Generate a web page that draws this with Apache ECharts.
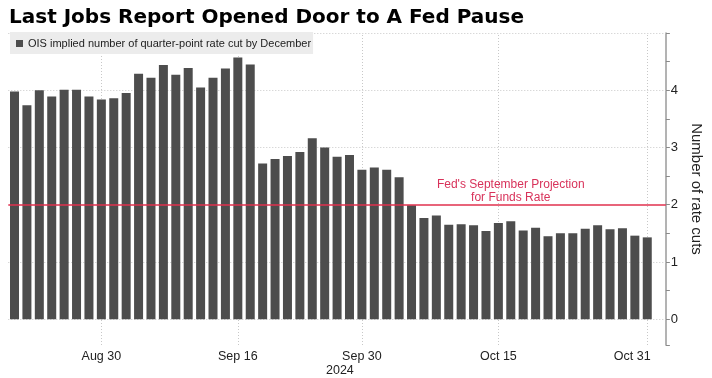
<!DOCTYPE html>
<html><head><meta charset="utf-8">
<script src="https://cdn.jsdelivr.net/npm/echarts@6/dist/echarts.min.js"></script>
<style>html,body{margin:0;padding:0;background:#fff}#c{width:712px;height:378px}</style>
</head><body><div id="c"></div>
<script>
// ---- data ----
const dates = [
  'Aug 21','Aug 22','Aug 23','Aug 26','Aug 27','Aug 28','Aug 29','Aug 30',
  'Sep 2','Sep 3','Sep 4','Sep 5','Sep 6','Sep 9','Sep 10','Sep 11','Sep 12','Sep 13','Sep 16',
  'Sep 17','Sep 18','Sep 19','Sep 20','Sep 23','Sep 24','Sep 25','Sep 26','Sep 27','Sep 30',
  'Oct 1','Oct 2','Oct 3','Oct 4','Oct 7','Oct 8','Oct 9','Oct 10','Oct 11','Oct 14','Oct 15',
  'Oct 16','Oct 17','Oct 18','Oct 21','Oct 22','Oct 23','Oct 24','Oct 25','Oct 28','Oct 29','Oct 30','Oct 31'
];
const rateCuts = [
  3.98, 3.74, 4.00, 3.89, 4.01, 4.01, 3.89, 3.84,
  3.86, 3.95, 4.29, 4.22, 4.44, 4.27, 4.39, 4.05, 4.22, 4.38, 4.57,
  4.45, 2.72, 2.80, 2.85, 2.92, 3.16, 3.00, 2.84, 2.87, 2.61,
  2.65, 2.61, 2.48, 1.99, 1.77, 1.81, 1.65, 1.66, 1.64, 1.54, 1.68,
  1.71, 1.55, 1.60, 1.45, 1.50, 1.50, 1.58, 1.64, 1.57, 1.59, 1.46, 1.43
];
const shownDates = ['Aug 30', 'Sep 16', 'Sep 30', 'Oct 15', 'Oct 31'];
const yearLabel = '2024';
const yearUnder = 'Sep 30';
const gridValues = [0, 1, 3, 4, 5];
const yTickLabels = [0, 1, 2, 3, 4];
const fedProjection = 2;
const annotationDate = 'Oct 16';
const annotationText = "Fed's September Projection\nfor Funds Rate";
const seriesName = 'OIS implied number of quarter-point rate cut by December';
const titleText = 'Last Jobs Report Opened Door to A Fed Pause';
const yName = 'Number of rate cuts';

// ---- chart ----
const FONT = 'Liberation Sans, Arial, sans-serif';
const chart = echarts.init(document.getElementById('c'), null, {renderer: 'canvas'});
const categories = dates.concat(['']);
const lastShown = shownDates[shownDates.length - 1];

chart.setOption({
  animation: false,
  backgroundColor: '#ffffff',
  title: {
    text: titleText, left: 9, top: 8, padding: 0,
    textStyle: {fontFamily: 'DejaVu Sans', fontWeight: 'bold', fontSize: 20, color: '#000'}
  },
  legend: {
    data: [seriesName], left: 10, top: 32, padding: [6, 2, 5, 6],
    backgroundColor: '#ececec', icon: 'rect', itemWidth: 7, itemHeight: 7,
    textStyle: {fontFamily: FONT, fontSize: 11, color: '#222'}, selectedMode: false
  },
  grid: {left: 8.3, right: 46, top: 33, bottom: 30.3, containLabel: false},
  xAxis: {
    type: 'category', data: categories, boundaryGap: true,
    axisLine: {show: false}, axisTick: {show: false}, splitLine: {show: false},
    axisLabel: {
      interval: (i, v) => shownDates.indexOf(v) >= 0,
      fontFamily: FONT, fontSize: 12.5, color: '#222', margin: 5, lineHeight: 14,
      formatter: (v) => {
        if (v === yearUnder) return v + '\n{yr|' + yearLabel + '}';
        if (v === lastShown) return '{sh|' + v + '}';
        return v;
      },
      rich: {
        yr: {fontFamily: FONT, fontSize: 12.5, color: '#222', padding: [0, 44, 0, 0], lineHeight: 14},
        sh: {fontFamily: FONT, fontSize: 12.5, color: '#222', padding: [0, 30, 0, 0]}
      }
    }
  },
  yAxis: {
    type: 'value', position: 'right', min: -0.45, max: 5, minInterval: 0.5, maxInterval: 0.5,
    name: yName, nameLocation: 'middle', nameRotate: -90, nameGap: 14,
    nameTextStyle: {fontFamily: FONT, fontSize: 15, color: '#222'},
    axisLine: {show: true, lineStyle: {color: '#9a9a9a', width: 1.5}},
    axisTick: {show: true, length: 4, lineStyle: {color: '#8a8a8a'}},
    splitLine: {show: false},
    axisLabel: {
      fontFamily: FONT, fontSize: 13, color: '#222', margin: 5,
      formatter: (v) => (yTickLabels.indexOf(v) >= 0 ? String(v) : '')
    }
  },
  series: [
    {
      type: 'line', data: [], silent: true, z: 1,
      markLine: {
        silent: true, z: 1, symbol: ['none', 'none'], label: {show: false},
        lineStyle: {color: '#c8c8c8', type: [1, 2], width: 1},
        data: gridValues.map(v => ({yAxis: v})).concat(shownDates.map(d => ({xAxis: d})))
      }
    },
    {
      name: seriesName, type: 'bar', data: rateCuts, barWidth: 9, z: 2,
      itemStyle: {color: '#4d4d4d'},
      markLine: {
        silent: true, symbol: ['none', 'none'], label: {show: false},
        lineStyle: {color: '#e0304e', type: 'solid', width: 1.5},
        data: [{yAxis: fedProjection}]
      },
      markPoint: {
        silent: true, symbol: 'circle', symbolSize: 0,
        label: {
          show: true, position: 'top', distance: 1, formatter: annotationText,
          fontFamily: FONT, fontSize: 12, color: '#d8325a', lineHeight: 13, align: 'center'
        },
        data: [{coord: [annotationDate, fedProjection]}]
      }
    }
  ]
});
</script></body></html>
